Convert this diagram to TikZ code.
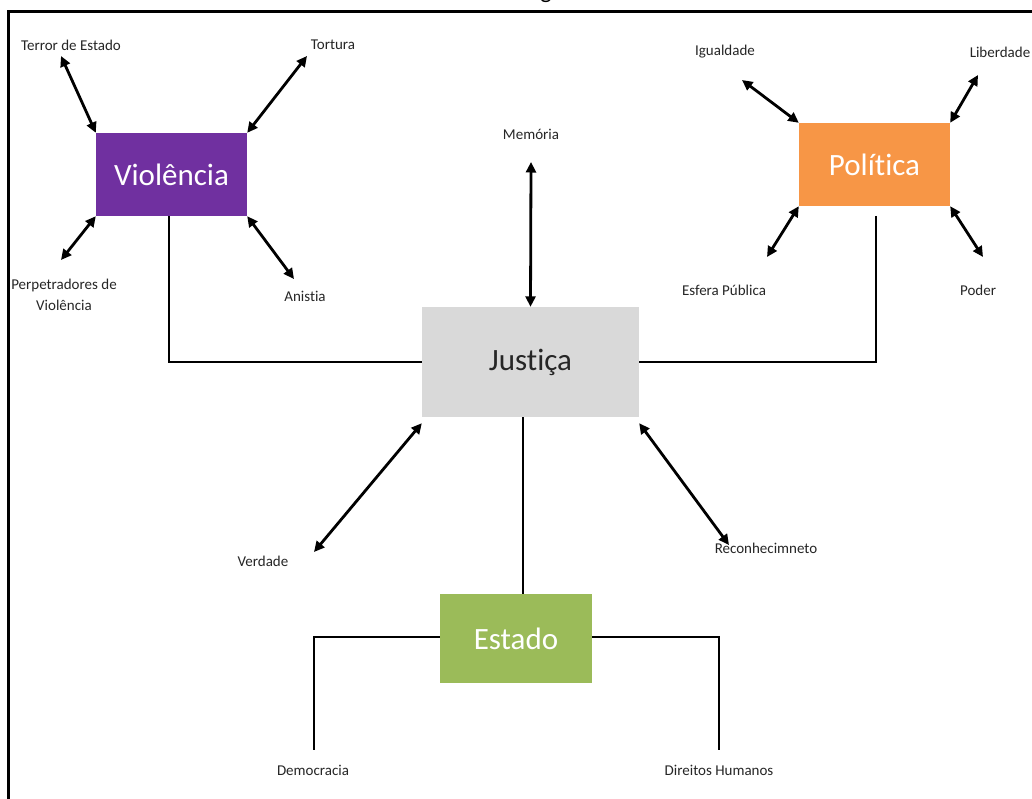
\documentclass[tikz,border=0pt]{standalone}
\usepackage{fontspec}
\setmainfont{Carlito}[Ligatures=CommonOff]
\usetikzlibrary{arrows.meta}
\definecolor{violc}{HTML}{7030A0}
\definecolor{polc}{HTML}{F79646}
\definecolor{jusc}{HTML}{D9D9D9}
\definecolor{estc}{HTML}{9BBB59}
\definecolor{txt}{HTML}{262626}
\begin{document}
\begin{tikzpicture}[x=1pt,y=-1pt,
  box/.style={rectangle, inner sep=0pt, font=\fontsize{31}{34}\selectfont},
  lbl/.style={inner sep=0pt, text=txt, font=\fontsize{15}{21}\selectfont, align=center},
  conn/.style={line width=2.8pt, black},
  dbl/.style={line width=2.8pt, black, {Triangle[length=10.5pt,width=10pt]}-{Triangle[length=10.5pt,width=10pt]}}]
\useasboundingbox (0,0) rectangle (1032,799);
\fill[white] (0,0) rectangle (1032,799);
% frame
\draw[line width=3pt] (8.5,799) -- (8.5,11.5) -- (1032,11.5);
\node[anchor=base, font=\fontsize{24}{24}\selectfont, inner sep=0pt] (cap) at (546,-1) {g};
% boxes
\node[box, fill=violc, text=white, minimum width=151pt, minimum height=83pt] (viol) at (171.5,174.5) {Violência};
\node[box, fill=polc, text=white, minimum width=151pt, minimum height=83pt] (pol) at (874.5,164.5) {Política};
\node[box, fill=jusc, text=txt, minimum width=217pt, minimum height=110pt] (jus) at (530.5,362) {Justiça};
\node[box, fill=estc, text=white, minimum width=152pt, minimum height=89pt] (est) at (516,638.5) {Estado};
% labels
\node[lbl] (terror) at (71,45) {Terror de Estado};
\node[lbl] (tort) at (333,45) {Tortura};
\node[lbl] (perp) at (64,295) {Perpetradores de\\Violência};
\node[lbl] (anis) at (305,296) {Anistia};
\node[lbl] (mem) at (531,134) {Memória};
\node[lbl] (igual) at (725,52) {Igualdade};
\node[lbl] (liber) at (1000,52) {Liberdade};
\node[lbl] (esf) at (724,290) {Esfera Pública};
\node[lbl] (pod) at (978,290) {Poder};
\node[lbl] (verd) at (263,561) {Verdade};
\node[lbl] (recon) at (766,548) {Reconhecimneto};
\node[lbl] (demo) at (313,770) {Democracia};
\node[lbl] (dir) at (719,770) {Direitos Humanos};
% arrow free ends
\coordinate (aTerror) at (61,56);
\coordinate (aTort) at (307,56);
\coordinate (aPerp) at (61,260);
\coordinate (aAnis) at (294,279);
\coordinate (aIgual) at (742,80);
\coordinate (aLiber) at (978,75);
\coordinate (aEsf) at (767,257);
\coordinate (aPod) at (983,257);
\coordinate (aMem) at (531,162);
\coordinate (aVerd) at (314,552);
\coordinate (aRecon) at (729,545);
\coordinate (vx) at (169,0);
\coordinate (jx) at (523,0);
\coordinate (ptop) at (876,216);
\coordinate (demTop) at (314,750);
\coordinate (dirTop) at (719,750);
% double arrows
\draw[dbl] (viol.north west) -- (aTerror);
\draw[dbl] (viol.north east) -- (aTort);
\draw[dbl] (viol.south west) -- (aPerp);
\draw[dbl] (viol.south east) -- (aAnis);
\draw[dbl] (pol.north west) -- (aIgual);
\draw[dbl] (pol.north east) -- (aLiber);
\draw[dbl] (pol.south west) -- (aEsf);
\draw[dbl] (pol.south east) -- (aPod);
\draw[dbl] (jus.north) -- (aMem);
\draw[dbl] ([yshift=-6pt]jus.south west) -- (aVerd);
\draw[dbl] ([yshift=-6pt]jus.south east) -- (aRecon);
% plain connectors
\draw[conn] (viol.south -| vx) |- (jus.west);
\draw[conn] (ptop) |- (jus.east);
\draw[conn] (jus.south -| jx) -- (est.north -| jx);
\draw[conn] ([yshift=1.5pt]est.west) -| (demTop);
\draw[conn] ([yshift=1.5pt]est.east) -| (dirTop);
\end{tikzpicture}
\end{document}
